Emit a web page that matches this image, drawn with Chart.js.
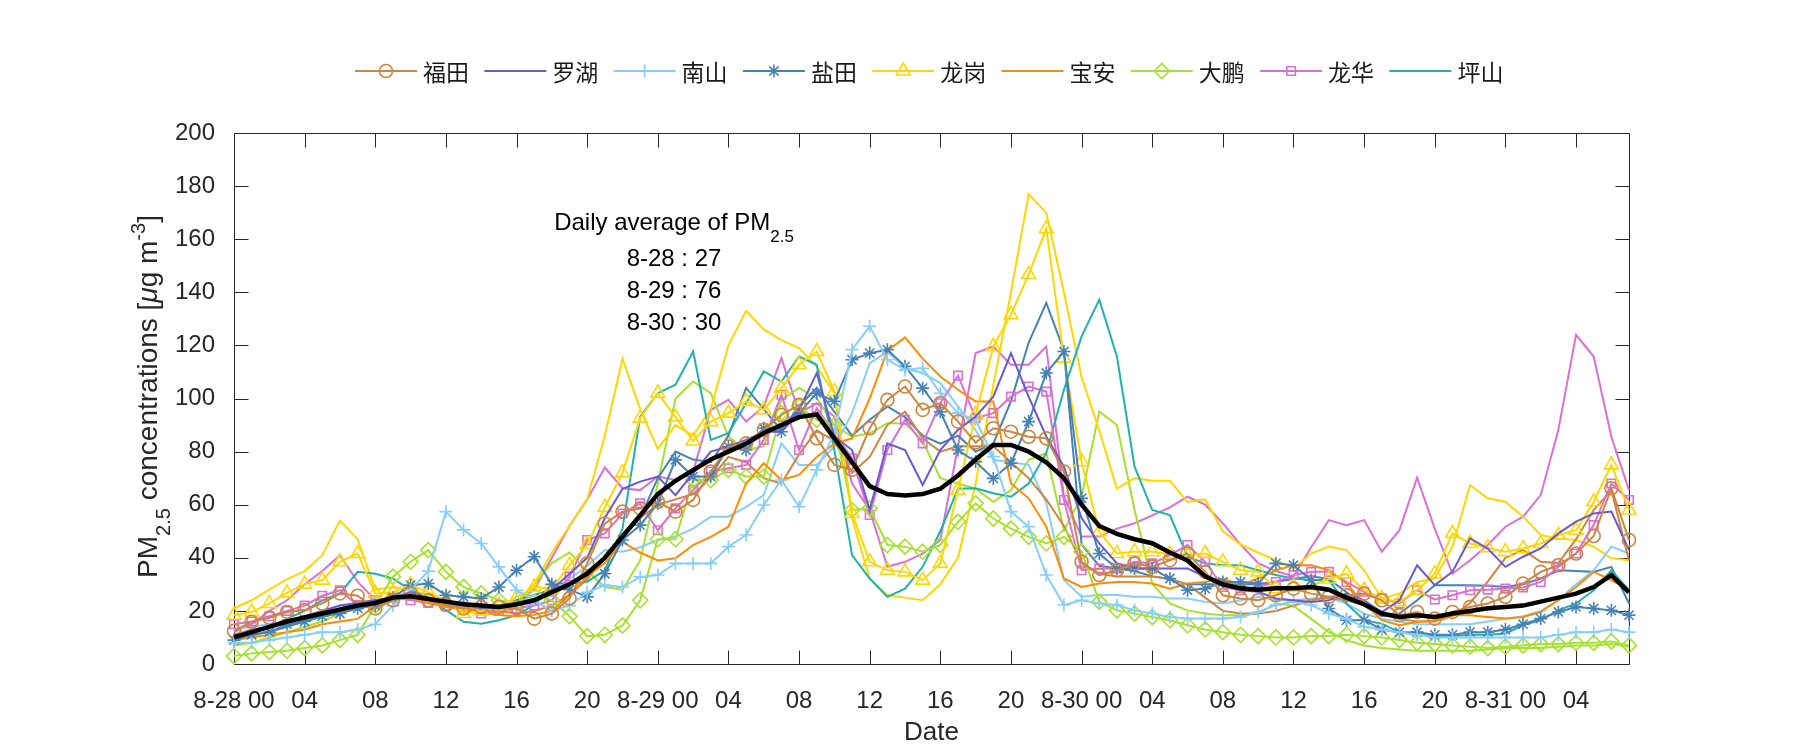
<!DOCTYPE html>
<html>
<head>
<meta charset="utf-8">
<script src="https://cdn.jsdelivr.net/npm/chart.js@4.4.1/dist/chart.umd.min.js"></script>
<style>
  html, body { margin: 0; padding: 0; background: #fff; }
  #wrap { width: 1800px; height: 750px; }
</style>
</head>
<body>
<div id="wrap"><canvas id="pmChart" width="1800" height="750"></canvas></div>
<script>
// hourly PM2.5, 8-28 00 .. 8-31 07 (80 hours)
const average = [
  10, 12, 14, 16, 17.5, 19, 20.5, 22, 23, 25, 25.5, 24.5, 23.5, 22.5, 22, 21.5, 22.5, 24, 27, 30,
  34, 40, 48, 56, 64, 69, 73, 77, 80, 83, 87, 90, 93, 94, 85, 76, 67, 64, 63.5, 64,
  66, 71, 77, 82.5, 82.5, 80, 76, 70, 60, 52, 49, 47, 45.5, 42, 39, 33, 30, 28.5, 28, 28.5,
  28.5, 29, 28, 25, 22.5, 19, 17.7, 18.4, 17.7, 19, 20, 21, 21.5, 22, 23.5, 25, 26.5, 29, 33.5, 27,
];
const futian = [
  12.5, 15.9, 17.4, 19.6, 20.3, 22.8, 26.6, 25.7, 20.9, 24, 26.6, 24, 22.2, 20.9, 21.5, 21.5, 20.9, 17.1, 19, 24.7,
  37.9, 52.9, 57.4, 58.6, 61.1, 57.4, 61.8, 72.5, 81.9, 83.1, 88.2, 93.8, 97.6, 85, 75, 73.1, 88.8, 99.5, 104.5, 95.7,
  98.2, 91.3, 83.4, 88.8, 87.5, 85.6, 85, 72.5, 38.5, 33.5, 35.3, 37.9, 36.6, 39.1, 41.6, 34.7, 25.9, 24.7, 24, 25.9,
  28.4, 26.5, 25.3, 25.9, 26.5, 24, 18.4, 19.6, 17.1, 19.6, 21.5, 22.8, 25.3, 30.3, 34.7, 37.2, 41.6, 48.2, 66.2, 46.7,
];
const futian2 = [
  11, 13, 14, 16, 18, 19, 21, 23, 24, 25, 26, 24, 22, 21, 20, 20, 19, 20, 22, 26,
  32, 40, 48, 55, 60, 62, 64, 70, 78, 76, 70, 68, 79, 88, 84, 72, 78, 90, 95, 85,
  80, 82, 82, 82, 76, 70, 62, 52, 38, 34, 33, 33, 33, 32, 30, 25, 20, 19, 19, 20,
  22, 24, 25, 24, 22, 19, 17, 16, 16, 18, 23, 31, 40, 43, 38.5, 38, 47, 58, 65.5, 39,
];
const luohu = [
  11, 12, 14, 16, 18, 20, 22, 23, 24, 25, 27, 25, 23, 22, 21, 21, 22, 24, 28, 34,
  40, 55, 66, 68.7, 70.6, 63.6, 71.8, 80, 81.9, 84.4, 87.5, 87.5, 95.7, 109.6, 85.7, 80.6, 58, 83.1, 80.6, 67.4,
  80.6, 88.2, 93.2, 100.7, 117.1, 100.7, 85.7, 74.3, 55, 45.4, 37.9, 36, 36, 36, 36, 32.8, 29.7, 27.8, 27.2, 24.7,
  24, 23.4, 24, 26.5, 24, 19.6, 24, 37.2, 29.7, 34.7, 47.3, 43.5, 36.6, 40.4, 43.5, 49.2, 53.6, 56.7, 57.4, 42.9,
];
const nanshan = [
  8, 8, 9, 10, 11, 12, 12, 13, 15, 22, 28, 35, 57.4, 50.5, 45.4, 36.6, 27.8, 24, 20, 22,
  27, 29.7, 29, 32.8, 33.5, 37.9, 37.9, 37.9, 44.2, 48.6, 59.9, 69.3, 59.2, 73.1, 86.9, 118.4, 127.2, 114.6, 110.8, 111.4,
  102, 94.5, 92, 78.1, 57.4, 51.7, 33.5, 22.2, 24, 22.8, 22.2, 20.2, 19, 17.7, 17.1, 17.1, 17.1, 17.7, 19.6, 22.2,
  23.4, 22.2, 19, 17, 14, 13, 12, 11, 10, 10, 10, 10, 10, 10, 10, 11, 12, 12, 13, 12,
];
const nanshan2 = [
  13, 14, 15, 16, 18, 20, 22, 23, 24, 24, 25, 26, 24, 22, 21, 22, 22, 23, 27, 32,
  37, 42.9, 42.3, 44, 46.7, 48, 51, 55.5, 55.5, 59.2, 63.6, 83.1, 75, 75, 81.9, 94.5, 113.3, 117.7, 111.4, 109.6,
  105.8, 97, 88, 76.9, 76, 75, 60.5, 31.6, 25.3, 26, 26, 25.3, 25.3, 24.7, 24.7, 23.4, 22.8, 24, 25.3, 24,
  24, 24.7, 25, 22.8, 19, 17, 16, 15, 15, 15, 15, 16, 17, 18, 20, 24, 30, 35.3, 44.2, 41.6,
];
const yantian = [
  9, 11, 12, 15, 16, 18, 19, 21, 22, 25, 29.7, 30.3, 25.9, 25.3, 24.7, 29, 35.3, 40.4, 30, 28,
  25.3, 34, 46.7, 52.3, 60.5, 76.9, 70.6, 70.6, 81.9, 80.6, 88.8, 87.5, 94.5, 102, 98.9, 114.6, 117.1, 118.4, 112.1, 103.9,
  95, 80.6, 76.2, 69.9, 75.6, 91.3, 109.6, 117.7, 62.4, 41.6, 36, 36, 36, 32.2, 27.8, 28.4, 30.9, 30.9, 30.3, 37.9,
  37.2, 31.6, 20.9, 16.5, 16.5, 13, 12, 12, 11, 11, 12, 12, 13, 15, 17.1, 19.6, 21.5, 20.9, 20.2, 18.4,
];
const yantian2 = [
  10, 11, 12, 14, 16, 18, 20, 22, 23, 25, 26, 25, 23, 22, 22, 22, 24, 26, 28, 30,
  35, 40, 48, 55, 70, 80, 77, 76, 86, 104, 96, 88, 97, 104, 95, 86, 92, 97, 93, 86,
  83, 86, 80, 83, 99, 121, 136, 118, 45, 37, 36, 35, 33, 32, 30, 30, 30, 30, 30, 31,
  32, 33, 32, 27, 22, 18, 19, 24, 29.7, 29.7, 29.7, 29.5, 29, 30, 32.2, 35.3, 35, 34.7, 36.6, 22.8,
];
const longgang = [
  18.4, 19.6, 22.8, 26.8, 30.1, 31.6, 38.5, 41.6, 26.6, 27, 29.7, 27, 24, 19, 20, 22, 25, 29, 28.4, 37.2,
  45, 59, 72, 92.6, 102, 93, 84, 91.3, 94.5, 98.9, 95.7, 103.9, 112.7, 117.7, 102.6, 56.7, 38.5, 35.3, 34.7, 31.6,
  37.9, 65.5, 94, 119.6, 131.6, 146.7, 164, 115.2, 76.2, 49.8, 41.6, 42.3, 42.3, 41.4, 41, 41.6, 38.5, 35.3, 34.7, 28.4,
  29, 29.5, 32, 34, 27.8, 24.7, 23.4, 27.8, 34, 49.2, 45.4, 43.8, 42.3, 43.5, 45.4, 48.5, 50.4, 61.1, 75, 58,
];
const longgang2 = [
  21, 24, 28, 32, 35, 41, 54, 47, 28, 29, 28, 26, 23, 20, 19, 19, 22, 30, 42, 52,
  62, 86, 115, 96, 81, 90, 86, 96, 120, 133, 126, 122, 119, 112, 102, 55, 32, 26, 25, 24,
  30, 40, 68, 105, 140, 177, 170, 140, 108, 88, 66, 70, 69, 69, 61, 62, 50, 45, 42, 39,
  36, 41.6, 44.2, 42.9, 35.3, 24.7, 26.5, 30.9, 32.2, 44.2, 67.4, 62.4, 61.1, 55.5, 48.6, 47.3, 46.7, 44.2, 39.8, 39.1,
];
const baoan = [
  9, 10, 11, 12, 13, 15, 16, 17, 22, 24, 25, 23, 21.5, 20.5, 19.5, 18.5, 18, 18.5, 20, 26,
  33, 38, 46, 42, 39, 39.8, 44.8, 47.9, 51.7, 68, 75.6, 69.3, 71.2, 78, 83, 85, 100, 118, 123, 115,
  108.3, 103.3, 98.9, 98.9, 68, 62.4, 51.7, 32.2, 29, 30.3, 30.9, 30.9, 30.3, 28.4, 30.3, 30.9, 32.2, 29.7, 32.2, 35.3,
  37.2, 37.2, 35.3, 30.3, 22.8, 16.5, 14.6, 15.8, 16.5, 18.4, 18.4, 17.7, 17.1, 17.7, 19.6, 24, 29, 34.7, 31.6, 27.8,
];
const dapeng = [
  3, 4, 4.5, 5, 6, 7, 9, 11, 22, 32.9, 38.5, 42.9, 34.7, 29, 26.6, 24, 22.8, 26, 24, 18,
  10.5, 11, 14.5, 24, 47, 47, 69.3, 69.3, 73.1, 70.6, 70.6, 94.5, 97, 92, 90, 58, 58.6, 44.8, 44.2, 42.3,
  44.8, 53.6, 60.5, 54.8, 51, 47.9, 45.4, 47.9, 42.3, 23.4, 20.2, 19, 17.7, 16.5, 14.6, 13, 12, 11, 10.5, 10,
  10, 10.5, 10.5, 11, 10.5, 10, 9, 8, 7.5, 7, 6.5, 6, 6.5, 7, 7.5, 7.5, 8, 8, 8.5, 7,
];
const dapeng2 = [
  7, 8, 10, 12, 14, 16, 19, 21, 23, 25, 26, 25, 23, 22, 22, 22, 23, 30, 38, 42,
  35, 29, 28, 39, 68, 100, 106.4, 102, 85.6, 80.6, 82, 99.5, 104, 100, 90, 85.6, 86.9, 90.7, 90.7, 84,
  70, 68, 66, 61.1, 65.5, 76.9, 79.4, 50.4, 63, 95.1, 90, 58, 30.3, 22.8, 20.2, 19, 18.4, 18.4, 19, 22.8,
  22, 17, 12, 9, 7, 6, 5.5, 5, 5, 5, 5, 5.5, 6, 6, 6, 6.5, 7, 7, 7.5, 6.5,
];
const longhua = [
  15, 16, 18, 20, 22, 25.7, 27.8, 22.2, 24, 25, 24, 23, 22, 21, 19, 20, 21, 22, 24, 33,
  46.7, 49.2, 56.7, 60.5, 50.4, 58.6, 65.5, 72.5, 73.7, 75, 84.4, 101.4, 80.6, 96.4, 86.9, 77.5, 56.1, 80.6, 92, 83.1,
  98.2, 108.6, 92.6, 94.5, 100.7, 104.5, 102.6, 61.8, 35.3, 36, 36, 38.5, 37.9, 41, 44.8, 38.5, 29, 27.8, 29, 30.9,
  33.5, 34.7, 34.7, 30.9, 27.2, 24.7, 22.8, 27.8, 24.3, 25.9, 27.8, 28, 28.4, 28.8, 30.9, 36.6, 41.6, 52.3, 68, 61.8,
];
const longhua2 = [
  12, 15, 20, 24, 30, 35, 41, 31, 24, 25, 27, 25, 22, 21, 20, 20, 23, 28, 40, 52,
  62, 74, 66.2, 65.5, 70.6, 69.3, 72.5, 95.7, 99.5, 91.3, 97, 115.2, 94.5, 98.2, 93.2, 68, 58, 36.6, 38.5, 41.6,
  46.7, 82, 117.1, 119.6, 112.7, 112.7, 119.6, 63, 48, 48, 51, 53, 56, 59, 63, 60, 53, 45, 38, 35,
  33, 44, 54.2, 52.3, 54.2, 42.3, 50.4, 70.2, 51, 34, 39.1, 44.8, 51.7, 55.5, 63.6, 88.2, 124, 115.8, 85.6, 65.5,
];
const pingshan = [
  10, 12, 14, 17, 20, 24, 26.6, 34.7, 34, 32.2, 27.8, 25, 20.3, 15.9, 15.2, 16.5, 18.4, 22.2, 30.3, 30.3,
  31, 35.3, 51, 93.2, 102, 105.2, 117.7, 84.4, 86.9, 98.2, 110.2, 106.4, 115.8, 112.7, 80.6, 41, 32.2, 25.3, 28.4, 36.6,
  50, 66, 66.2, 64.3, 63, 68, 79.4, 103.3, 123.4, 137.2, 115.8, 74.3, 58, 56.1, 40.4, 37.9, 37.2, 37.2, 35.3, 33.5,
  32.2, 31.6, 31.6, 22.8, 16.5, 15.2, 12, 11, 10.5, 10.5, 11, 11, 11.5, 14.6, 16.5, 20.2, 22.8, 27.8, 35.3, 27.8,
];

const tickHours = [0, 4, 8, 12, 16, 20, 24, 28, 32, 36, 40, 44, 48, 52, 56, 60, 64, 68, 72, 76];
const tickLabels = [
  "8-28 00", "04", "08", "12", "16", "20",
  "8-29 00", "04", "08", "12", "16", "20",
  "8-30 00", "04", "08", "12", "16", "20",
  "8-31 00", "04",
];
const yTicks = [0, 20, 40, 60, 80, 100, 120, 140, 160, 180, 200];
const dailyDays = ["8-28", "8-29", "8-30"];
const dailyMeans = [27, 76, 30];

// marked lines first in legend order, then the second (unmarked) lines
const series = [
  { name: "福田", data: futian, color: "#CD853F", marker: "circle", r: 6.5, legend: true },
  { name: "罗湖", data: luohu, color: "#6A5ACD", marker: null, legend: true },
  { name: "南山", data: nanshan, color: "#87CEFA", marker: "cross", r: 6.5, legend: true },
  { name: "盐田", data: yantian, color: "#4682B4", marker: "star", r: 6.5, legend: true },
  { name: "龙岗", data: longgang, color: "#FFD700", marker: "triangle", r: 8, legend: true },
  { name: "宝安", data: baoan, color: "#FF8C00", marker: null, legend: true },
  { name: "大鹏", data: dapeng, color: "#A5E22C", marker: "rectRot", r: 7.5, legend: true },
  { name: "龙华", data: longhua, color: "#DA70D6", marker: "rect", r: 6, legend: true },
  { name: "坪山", data: pingshan, color: "#20B2AA", marker: null, legend: true },
  { name: "福田2", data: futian2, color: "#CD853F", marker: null },
  { name: "南山2", data: nanshan2, color: "#87CEFA", marker: null },
  { name: "盐田2", data: yantian2, color: "#4682B4", marker: null },
  { name: "龙岗2", data: longgang2, color: "#FFD700", marker: null },
  { name: "大鹏2", data: dapeng2, color: "#A5E22C", marker: null },
  { name: "龙华2", data: longhua2, color: "#DA70D6", marker: null },
];

const AXIS_COLOR = "#262626";
const FONT = "'Liberation Sans', Arial, sans-serif";
const CJK_FONT = "'Noto Sans CJK SC', sans-serif";

function toPoints(values) {
  return values.map((v, i) => ({ x: i, y: v }));
}

function drawMarker(ctx, style, x, y, r) {
  ctx.beginPath();
  if (style === "circle") {
    ctx.arc(x, y, r, 0, Math.PI * 2);
  } else if (style === "cross") {
    ctx.moveTo(x - r, y); ctx.lineTo(x + r, y);
    ctx.moveTo(x, y - r); ctx.lineTo(x, y + r);
  } else if (style === "star") {
    ctx.moveTo(x - r, y); ctx.lineTo(x + r, y);
    ctx.moveTo(x, y - r); ctx.lineTo(x, y + r);
    const d = r * Math.SQRT1_2;
    ctx.moveTo(x - d, y - d); ctx.lineTo(x + d, y + d);
    ctx.moveTo(x - d, y + d); ctx.lineTo(x + d, y - d);
  } else if (style === "triangle") {
    for (let k = 0; k < 3; k++) {
      const a = (k * 2 * Math.PI) / 3;
      const px = x + Math.sin(a) * r, py = y - Math.cos(a) * r;
      if (k === 0) ctx.moveTo(px, py); else ctx.lineTo(px, py);
    }
    ctx.closePath();
  } else if (style === "rectRot") {
    ctx.moveTo(x - r, y); ctx.lineTo(x, y - r);
    ctx.lineTo(x + r, y); ctx.lineTo(x, y + r);
    ctx.closePath();
  } else if (style === "rect") {
    const s = r * Math.SQRT1_2;
    ctx.rect(x - s, y - s, 2 * s, 2 * s);
  }
  ctx.stroke();
}

// text runs: [text, kind] where kind is "n" normal, "sub", "sup", "it"
function runFont(kind, size) {
  if (kind === "sub" || kind === "sup") return `${Math.round(size * 0.72)}px ${FONT}`;
  if (kind === "it") return `italic ${size}px ${FONT}`;
  return `${size}px ${FONT}`;
}

function runWidth(ctx, runs, size) {
  let w = 0;
  runs.forEach(([t, kind]) => {
    ctx.font = runFont(kind, size);
    w += ctx.measureText(t).width;
  });
  return w;
}

function drawRuns(ctx, runs, x, y, size) {
  let cx = x;
  runs.forEach(([t, kind]) => {
    ctx.font = runFont(kind, size);
    let dy = 0;
    if (kind === "sub") dy = size * 0.48;
    if (kind === "sup") dy = -size * 0.42;
    ctx.fillText(t, cx, y + dy);
    cx += ctx.measureText(t).width;
  });
}

const decorations = {
  id: "decorations",
  beforeDatasetsDraw(chart) {
    const { ctx, chartArea: a } = chart;
    const xs = chart.scales.x, ys = chart.scales.y;
    ctx.save();
    ctx.strokeStyle = AXIS_COLOR;
    ctx.lineWidth = 1;
    const L = Math.round(a.left) + 0.5, R = Math.round(a.right) + 0.5;
    const T = Math.round(a.top) + 0.5, B = Math.round(a.bottom) + 0.5;
    ctx.beginPath();
    ctx.rect(L, T, R - L, B - T);
    tickHours.forEach((h) => {
      const px = Math.round(xs.getPixelForValue(h)) + 0.5;
      ctx.moveTo(px, B); ctx.lineTo(px, B - 14);
      ctx.moveTo(px, T); ctx.lineTo(px, T + 14);
    });
    yTicks.forEach((v) => {
      const py = Math.round(ys.getPixelForValue(v)) + 0.5;
      ctx.moveTo(L, py); ctx.lineTo(L + 14, py);
      ctx.moveTo(R, py); ctx.lineTo(R - 14, py);
    });
    ctx.stroke();
    ctx.restore();
  },
  afterDraw(chart) {
    const { ctx, chartArea: a } = chart;
    ctx.save();

    // legend row
    const legendItems = series.filter((s) => s.legend);
    legendItems.forEach((s, i) => {
      const x0 = 355 + i * 129.3;
      const y0 = 71;
      ctx.strokeStyle = s.color;
      ctx.lineWidth = 2;
      ctx.beginPath();
      ctx.moveTo(x0, y0); ctx.lineTo(x0 + 62, y0);
      ctx.stroke();
      if (s.marker) {
        ctx.lineWidth = 1.6;
        drawMarker(ctx, s.marker, x0 + 31, y0, s.r);
      }
      ctx.fillStyle = "#1a1a1a";
      ctx.font = `23px ${CJK_FONT}`;
      ctx.textAlign = "left";
      ctx.textBaseline = "middle";
      ctx.fillText(s.name, x0 + 68, y0 + 1);
    });

    // daily averages note
    ctx.fillStyle = "#000";
    ctx.textBaseline = "alphabetic";
    ctx.textAlign = "left";
    const noteX = 674;
    const head = [["Daily average of PM", "n"], ["2.5", "sub"]];
    drawRuns(ctx, head, noteX - runWidth(ctx, head, 24) / 2, 230, 24);
    ctx.font = `24px ${FONT}`;
    ctx.textAlign = "center";
    dailyDays.forEach((d, i) => {
      ctx.fillText(`${d} : ${dailyMeans[i]}`, noteX, 266 + i * 32);
    });

    // axis titles
    ctx.fillStyle = AXIS_COLOR;
    ctx.textAlign = "center";
    ctx.font = `26px ${FONT}`;
    ctx.fillText("Date", (a.left + a.right) / 2, 740);

    const ytitle = [
      ["PM", "n"], ["2.5", "sub"], [" concentrations [", "n"],
      ["\u03bc", "it"], ["g m", "n"], ["-3", "sup"], ["]", "n"],
    ];
    ctx.translate(157, (a.top + a.bottom) / 2 - 2);
    ctx.rotate(-Math.PI / 2);
    ctx.textAlign = "left";
    drawRuns(ctx, ytitle, -runWidth(ctx, ytitle, 28) / 2, 0, 28);
    ctx.restore();
  },
};

const datasets = [
  {
    label: "平均",
    data: toPoints(average),
    borderColor: "#000",
    borderWidth: 4.5,
    pointRadius: 0,
    clip: false,
  },
];
series.forEach((s) => {
  datasets.push({
    label: s.name,
    data: toPoints(s.data),
    borderColor: s.color,
    borderWidth: 2,
    pointStyle: s.marker || "circle",
    pointRadius: s.marker ? s.r : 0,
    pointBorderColor: s.color,
    pointBackgroundColor: "rgba(0,0,0,0)",
    pointBorderWidth: 1.6,
    tension: 0,
    clip: false,
  });
});

const ctx = document.getElementById("pmChart").getContext("2d");
new Chart(ctx, {
  type: "line",
  data: { datasets },
  options: {
    responsive: false,
    animation: false,
    devicePixelRatio: 1,
    layout: { padding: { left: 0, right: 171, top: 133, bottom: 0 } },
    plugins: {
      legend: { display: false },
      tooltip: { enabled: false },
    },
    scales: {
      x: {
        type: "linear",
        min: 0,
        max: 79,
        grid: { display: false },
        border: { display: false },
        afterBuildTicks: (axis) => {
          axis.ticks = tickHours.map((v) => ({ value: v }));
        },
        afterFit: (axis) => {
          axis.height = 86;
        },
        ticks: {
          autoSkip: false,
          maxRotation: 0,
          padding: 15,
          color: AXIS_COLOR,
          font: { family: FONT, size: 24 },
          callback: (value) => tickLabels[tickHours.indexOf(value)],
        },
      },
      y: {
        min: 0,
        max: 200,
        grid: { display: false },
        border: { display: false },
        afterFit: (axis) => {
          axis.width = 234;
        },
        ticks: {
          stepSize: 20,
          padding: 11,
          color: AXIS_COLOR,
          font: { family: FONT, size: 24 },
        },
      },
    },
  },
  plugins: [decorations],
});
</script>
</body>
</html>
